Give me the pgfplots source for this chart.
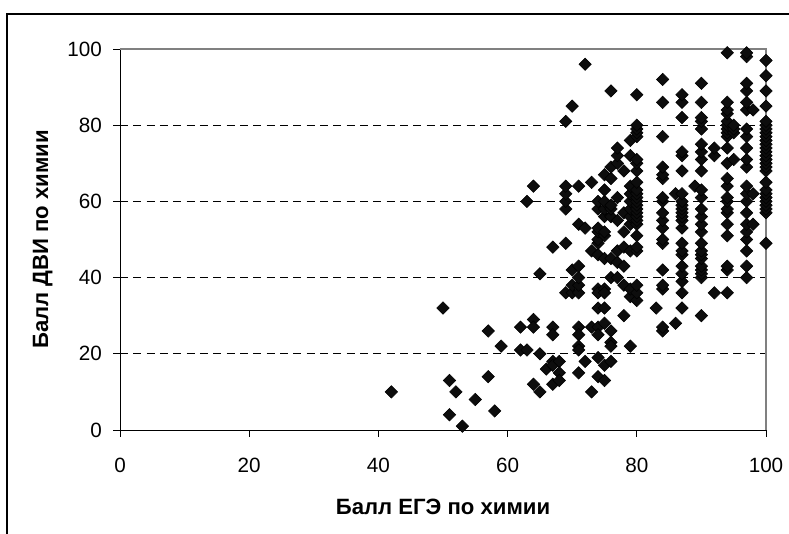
\documentclass[border=0pt]{standalone}
\usepackage{fontspec}
\setmainfont{Liberation Sans}
\usepackage{pgfplots}
\pgfplotsset{compat=1.18}
\pgfplotstableread{
x y
42 10
50 32
51 13
51 4
52 10
53 1
55 8
57 14
57 26
58 5
59 22
62 27
62 21
63 21
63 60
64 29
64 27
64 12
64 64
65 20
65 10
65 41
66 16
67 27
67 25
67 18
67 17
67 12
67 48
68 18
68 15
68 13
69 49
69 36
69 58
69 60
69 62
69 64
69 81
70 36
70 38
70 42
70 85
71 36
71 38
71 40
71 43
71 27
71 25
71 22
71 21
71 15
71 54
71 64
72 18
72 53
72 96
73 27
73 10
73 47
73 65
74 19
74 14
74 37
74 36
74 32
74 27
74 25
74 46
74 49
74 50
74 52
74 53
74 58
74 60
75 13
75 17
75 28
75 37
75 36
75 32
75 45
75 51
75 52
75 56
75 58
75 60
75 63
75 67
76 26
76 23
76 22
76 18
76 40
76 45
76 56
76 58
76 59
76 66
76 69
76 89
77 40
77 44
77 47
77 55
77 61
77 70
77 72
77 74
78 30
78 38
78 43
78 48
78 52
78 57
78 68
79 22
79 35
79 37
79 47
79 54
79 56
79 58
79 60
79 62
79 64
79 72
79 76
80 34
80 36
80 38
80 47
80 48
80 51
80 54
80 55
80 56
80 57
80 58
80 59
80 60
80 61
80 62
80 63
80 65
80 68
80 70
80 71
80 77
80 78
80 79
80 80
80 88
83 32
84 26
84 27
84 37
84 38
84 42
84 49
84 50
84 53
84 55
84 57
84 60
84 61
84 66
84 67
84 69
84 77
84 86
84 92
86 28
86 62
87 32
87 36
87 39
87 41
87 43
87 46
87 47
87 49
87 53
87 55
87 56
87 57
87 58
87 59
87 60
87 62
87 68
87 72
87 73
87 82
87 86
87 88
89 64
90 30
90 40
90 41
90 42
90 43
90 45
90 46
90 47
90 49
90 52
90 54
90 56
90 58
90 61
90 63
90 68
90 71
90 73
90 75
90 79
90 81
90 82
90 86
90 91
92 36
92 72
92 74
94 36
94 42
94 43
94 51
94 54
94 57
94 58
94 60
94 61
94 64
94 66
94 70
94 74
94 77
94 78
94 79
94 80
94 81
94 83
94 84
94 86
94 99
95 71
95 78
95 79
95 80
97 40
97 43
97 47
97 50
97 52
97 54
97 57
97 60
97 62
97 64
97 69
97 71
97 74
97 77
97 79
97 84
97 86
97 89
97 91
97 98
97 99
98 54
98 62
98 84
100 49
100 57
100 58
100 59
100 60
100 61
100 62
100 63
100 65
100 68
100 69
100 70
100 71
100 72
100 73
100 74
100 75
100 76
100 77
100 78
100 79
100 80
100 81
100 85
100 89
100 93
100 97
}\scatterdata
\begin{document}
\begin{tikzpicture}
\path[use as bounding box] (-90pt,-78pt) rectangle (501.75pt,322.5pt);
\draw[line width=1.1pt,black] (-84.75pt,-78pt) -- (-84.75pt,312pt) -- (501.75pt,312pt);
\begin{axis}[
  at={(0pt,0pt)},anchor=origin,
  scale only axis,
  width=484.5pt,height=285.75pt,
  xmin=0,xmax=100,ymin=0,ymax=100,
  xtick={0,20,...,100},ytick={0,20,...,100},
  axis x line*=bottom,axis y line*=left,
  axis line style={black,line width=0.7pt,-},
  tick style={black,line width=0.6pt},
  major tick length=5pt,
  tick align=outside,
  ymajorgrids,
  major grid style={black,line width=0.6pt,dash pattern=on 6pt off 4pt},
  /pgf/number format/assume math mode=true,
  tick label style={font=\fontsize{15.5}{17}\selectfont},
  xticklabel style={yshift=-12.5pt},
  yticklabel style={xshift=-5pt},
  xlabel={\fontsize{16.6}{18}\selectfont\bfseries Балл ЕГЭ по химии},
  ylabel={\fontsize{16.6}{18}\selectfont\bfseries Балл ДВИ по химии},
  xlabel style={at={(axis description cs:0.5,0)},anchor=center,yshift=-57.5pt},
  ylabel style={at={(axis description cs:0,0.5)},anchor=center,rotate=0,yshift=58pt},
  clip=false,
]
\draw[gray,line width=0.9pt] (rel axis cs:0,1) -- (rel axis cs:1,1) -- (rel axis cs:1,0);
\addplot[only marks,mark=square*,mark size=3.3pt,mark options={rotate=45,fill=black!95,draw=none}] table[x=x,y=y] {\scatterdata};
\end{axis}
\end{tikzpicture}
\end{document}
